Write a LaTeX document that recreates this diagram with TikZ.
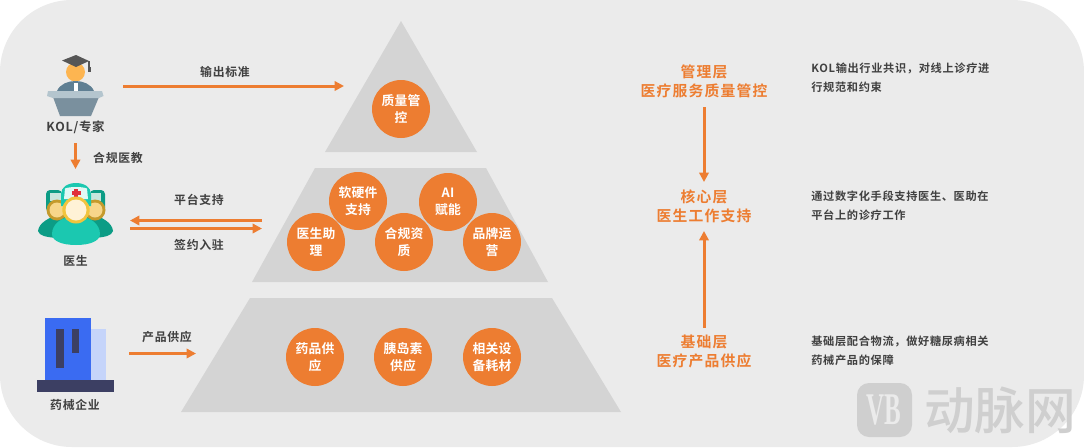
\documentclass[tikz,border=0pt]{standalone}
\usepackage{fontspec}
\setmainfont{Noto Sans CJK SC}[BoldFont={* Bold}]
\newfontfamily\cjkb[LetterSpace=6]{Noto Sans CJK SC Bold}
\newfontfamily\cjkw[LetterSpace=2]{Noto Sans CJK SC Bold}
\newfontfamily\cjkh[LetterSpace=8]{Noto Sans CJK SC Bold}
\newfontfamily\cjkn{Noto Sans CJK SC Medium}
\newfontfamily\logofont{Liberation Serif}
\definecolor{pbg}{HTML}{EBEBEB}
\definecolor{ptier}{HTML}{D4D4D4}
\definecolor{porg}{HTML}{ED7D31}
\definecolor{ptxt}{HTML}{404040}
\definecolor{pmark}{HTML}{CFCFCF}
\definecolor{hatc}{HTML}{565656}
\definecolor{headc}{HTML}{FDB551}
\definecolor{robec}{HTML}{5F7F93}
\definecolor{lectop}{HTML}{B4C5CE}
\definecolor{lecbody}{HTML}{7A909E}
\definecolor{backb}{HTML}{0C9C85}
\definecolor{frontb}{HTML}{1BC8B0}
\definecolor{capband}{HTML}{E0F8F4}
\definecolor{sideband}{HTML}{C8E6DE}
\definecolor{siderim}{HTML}{C49A2C}
\definecolor{sideface}{HTML}{F7D68A}
\definecolor{midrim}{HTML}{F2C43D}
\definecolor{midface}{HTML}{FFF2D6}
\definecolor{crossc}{HTML}{E0303A}
\definecolor{bluem}{HTML}{3A6BF2}
\definecolor{bluel}{HTML}{C5D4FA}
\definecolor{bluedk}{HTML}{3C3F63}
\tikzset{
 x=0.75pt,y=-0.75pt,
 tier/.style={fill=ptier,draw=none},
 ball/.style={circle,fill=porg,draw=none,minimum size=43.5pt,inner sep=0pt,text=white,align=center,font=\cjkw\fontsize{9.6pt}{12.5pt}\selectfont},
 lab/.style={text=ptxt,align=center,inner sep=0pt,font=\cjkb\fontsize{8.9pt}{11pt}\selectfont},
 head/.style={text=porg,align=center,inner sep=0pt,font=\cjkh\fontsize{11.1pt}{14.5pt}\selectfont},
 desc/.style={text=ptxt,align=left,anchor=west,inner sep=0pt,font=\cjkb\fontsize{8.4pt}{14.5pt}\selectfont},
 arr/.style={draw=porg,line width=2.25pt,-{Triangle[length=7pt,width=7pt]}},
 thinarr/.style={draw=porg,line width=2.1pt,-{Triangle[length=7pt,width=7pt]}},
}
\usetikzlibrary{arrows.meta}
\begin{document}
\begin{tikzpicture}
\useasboundingbox (0,0) rectangle (1084,447);
\fill[white] (0,0) rectangle (1084,447);
\fill[pbg,rounded corners=54pt] (0,0) rectangle (1084,447);
% pyramid
\fill[tier] (401,21) -- (477,152) -- (325,152) -- cycle;
\fill[tier] (315,168) -- (486,168) -- (548,282) -- (252,282) -- cycle;
\fill[tier] (250,298) -- (552,298) -- (621,412) -- (181,412) -- cycle;
% balls
\node[ball] (c1) at (401,109) {质量管\\控};
\node[ball] (c2) at (358,201) {软硬件\\支持};
\node[ball] (c3) at (448,202) {AI\\赋能};
\node[ball] (c4) at (316,242) {医生助\\理};
\node[ball] (c5) at (404,242) {合规资\\质};
\node[ball] (c6) at (492,242) {品牌运\\营};
\node[ball] (c7) at (315,357) {药品供\\应};
\node[ball] (c8) at (403,357) {胰岛素\\供应};
\node[ball] (c9) at (492,357) {相关设\\备耗材};
% KOL icon
\fill[headc] (75.5,72) circle (9.5);
\fill[hatc] (62,60.5) -- (76,55) -- (89,61) -- (76,67) -- cycle;
\draw[hatc,line width=0.8pt] (89,61) -- (89,68);
\fill[hatc] (88,67) rectangle (90.5,72);
\fill[robec] (57,91) .. controls (60,84) and (68,81) .. (75.5,81) .. controls (83,81) and (91,84) .. (94,91) -- cycle;
\fill[white] (74,83) rectangle (77.5,91);
\fill[lecbody] (53,97) -- (99,97) -- (91,116) -- (60,116) -- cycle;
\fill[lectop] (48,91) -- (102,91) -- (103.5,96) -- (99,98) -- (53,98) -- (47,96) -- cycle;
\node[lab,font=\cjkb\fontsize{9.3pt}{11pt}\selectfont] (kol) at (75.5,127) {KOL/专家};
% doctor icon
\fill[backb] (38,231) .. controls (39,222) and (50,218) .. (58,214) -- (93,214) .. controls (102,218) and (112,222) .. (113,231) .. controls (112,236) and (104,237) .. (95,238) -- (56,238) .. controls (47,237) and (39,236) .. (38,231) -- cycle;
\fill[backb,rounded corners=3pt] (46,190) rectangle (62,212);
\fill[backb,rounded corners=3pt] (90,190) rectangle (105,212);
\fill[sideband] (50,193) rectangle (62,201);
\fill[sideband] (90,193) rectangle (101,201);
\fill[siderim] (57,210) circle (10.5);
\fill[siderim] (95,210) circle (10.5);
\fill[sideface] (57,210) circle (7.5);
\fill[sideface] (95,210) circle (7.5);
\fill[frontb] (52,234) .. controls (52,224) and (62,216) .. (76,216) .. controls (90,216) and (100,224) .. (100,234) .. controls (100,241) and (90,245) .. (76,245) .. controls (62,245) and (52,241) .. (52,234) -- cycle;
\fill[frontb] (61,194) .. controls (61,187) and (68,183) .. (76,183) .. controls (84,183) and (91,187) .. (91,194) -- (91,206) -- (61,206) -- cycle;
\fill[capband] (65,188.5) .. controls (70,186.5) and (82,186.5) .. (87,188.5) -- (88,199) -- (64,199) -- cycle;
\fill[crossc] (74,188.5) rectangle (78,197.5);
\fill[crossc] (71.5,191) rectangle (80.5,195);
\fill[midrim] (76,210) ellipse (13.7 and 13.5);
\fill[midface] (76,210) ellipse (10.5 and 10.5);
\node[lab] (doc) at (75.5,261) {医生};
% pharma icon
\fill[bluel] (90.7,329) rectangle (106,380);
\fill[bluem] (44.7,318) rectangle (90.7,380);
\fill[bluedk] (56,329) rectangle (64,368);
\fill[bluedk] (71.7,329) rectangle (79.3,353);
\fill[bluedk] (37,380) rectangle (114,392);
\node[lab] (pha) at (75,405) {药械企业};
% left-to-pyramid arrows
\coordinate (a1s) at (123,86); \coordinate (a1e) at (344,86);
\coordinate (a2s) at (75.5,143); \coordinate (a2e) at (75.5,169);
\coordinate (a3s) at (262,220.5); \coordinate (a3e) at (130,220.5);
\coordinate (a4s) at (130,228.5); \coordinate (a4e) at (262,228.5);
\coordinate (a5s) at (129,353.5); \coordinate (a5e) at (196,353.5);
\draw[arr] (a1s) -- (a1e);
\draw[arr] (a2s) -- (a2e);
\draw[thinarr] (a3s) -- (a3e);
\draw[thinarr] (a4s) -- (a4e);
\draw[thinarr] (a5s) -- (a5e);
\node[lab] at (225,72) {输出标准};
\node[lab] at (118,158) {合规医教};
\node[lab] at (199,200) {平台支持};
\node[lab] at (199,245) {签约入驻};
\node[lab] at (167,337) {产品供应};
% right column
\node[head] (h1) at (704,81.5) {管理层\\医疗服务质量管控};
\node[head] (h2) at (704,206) {核心层\\医生工作支持};
\node[head] (h3) at (704,351.5) {基础层\\医疗产品供应};
\coordinate (r1s) at (704,107); \coordinate (r1e) at (704,182);
\coordinate (r3s) at (704,328); \coordinate (r3e) at (704,231);
\draw[arr] (r1s) -- (r1e);
\draw[arr] (r3s) -- (r3e);
\node[desc] at (811,78) {KOL输出行业共识，对线上诊疗进\\行规范和约束};
\node[desc] at (811,206) {通过数字化手段支持医生、医助在\\平台上的诊疗工作};
\node[desc] at (811,351) {基础层配合物流，做好糖尿病相关\\药械产品的保障};
% watermark
\fill[pmark,rounded corners=9pt] (857,383) rectangle (912,437);
\node[text=pbg,inner sep=0pt,xscale=0.55,font=\logofont\bfseries\fontsize{34pt}{34pt}\selectfont] (vb) at (884,410) {VB};
\node[text=pmark,inner sep=0pt,anchor=west,font=\cjkn\fontsize{38pt}{38pt}\selectfont] (mk) at (924,410) {动脉网};
\end{tikzpicture}
\end{document}
